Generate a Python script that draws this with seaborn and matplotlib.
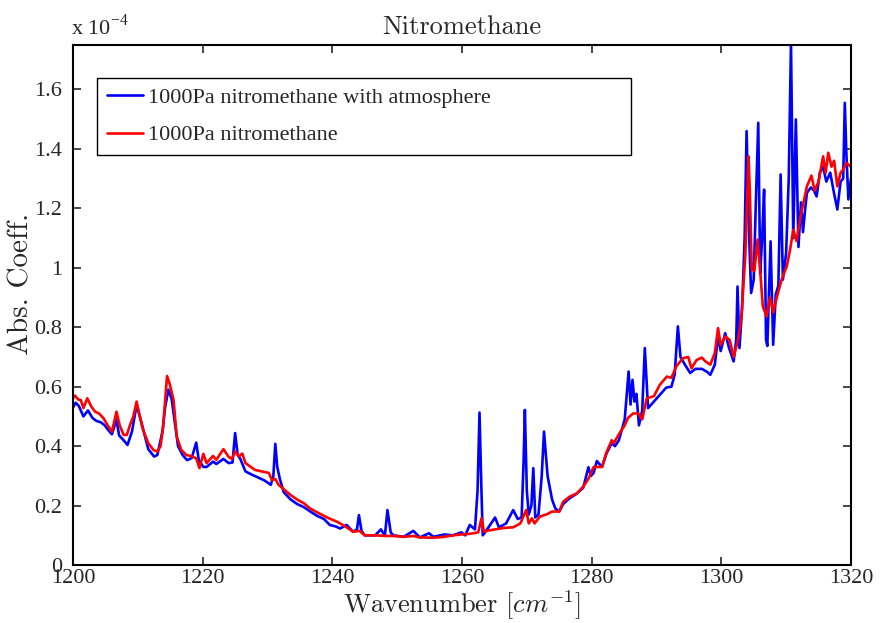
import numpy as np
import pandas as pd
import matplotlib
matplotlib.use("Agg")
import matplotlib.pyplot as plt
import seaborn as sns
from matplotlib.ticker import FuncFormatter, MultipleLocator

# spectrum with atmosphere (blue), absorption in units of 1e-4
wn_atm = [1200.0, 1200.4, 1200.9, 1201.6, 1202.3, 1203.0, 1203.6, 1204.3, 1204.9, 1205.4,
          1206.0, 1206.7, 1207.1, 1207.8, 1208.4, 1209.1, 1209.8, 1210.3, 1210.9, 1211.6,
          1212.5, 1213.0, 1213.8, 1214.2, 1214.7, 1215.2, 1215.7, 1216.2, 1216.9, 1217.6,
          1218.3, 1219.0, 1219.4, 1220.1, 1220.6, 1221.6, 1222.1, 1223.2, 1224.0, 1224.6,
          1225.0, 1225.4, 1225.8, 1226.6, 1227.5, 1228.5, 1229.5, 1230.5, 1230.9, 1231.2,
          1231.5, 1231.9, 1232.5, 1233.6, 1234.6, 1235.6, 1236.6, 1237.7, 1238.7, 1239.6,
          1240.5, 1241.2, 1242.2, 1243.2, 1243.8, 1244.1, 1244.5, 1245.0, 1246.6, 1247.5,
          1248.1, 1248.5, 1249.0, 1249.4, 1251.0, 1252.5, 1253.5, 1254.9, 1255.6, 1257.3,
          1258.6, 1259.9, 1260.5, 1261.2, 1262.0, 1262.4, 1262.7, 1263.0, 1263.2, 1264.0,
          1265.1, 1265.7, 1266.8, 1267.9, 1268.6, 1269.2, 1269.5, 1269.7, 1270.0, 1270.3,
          1270.7, 1271.0, 1271.3, 1271.8, 1272.3, 1272.65, 1273.2, 1273.9, 1274.4, 1275.0,
          1275.6, 1276.6, 1277.7, 1278.7, 1279.5, 1279.9, 1280.3, 1280.8, 1281.6, 1282.3,
          1283.1, 1283.6, 1284.2, 1285.1, 1285.7, 1286.0, 1286.3, 1286.6, 1286.9, 1287.3,
          1287.8, 1288.2, 1288.7, 1289.4, 1290.4, 1291.5, 1292.3, 1292.8, 1293.3, 1293.7,
          1294.4, 1295.2, 1296.0, 1297.0, 1297.8, 1298.3, 1299.0, 1299.5, 1299.9, 1300.6,
          1301.2, 1301.9, 1302.3, 1302.5, 1302.8, 1303.2, 1303.6, 1303.9, 1304.3, 1304.6,
          1305.0, 1305.3, 1305.7, 1306.0, 1306.3, 1306.6, 1306.9, 1307.1, 1307.6, 1308.0,
          1308.4, 1308.8, 1309.15, 1309.5, 1310.0, 1310.4, 1310.75, 1311.1, 1311.5, 1311.9,
          1312.3, 1312.6, 1312.9, 1313.2, 1313.8, 1314.3, 1314.7, 1315.2, 1315.7, 1316.2,
          1316.8, 1317.4, 1317.9, 1318.4, 1318.8, 1319.05, 1319.3, 1319.6, 1320.0]
abs_atm = [0.53, 0.546, 0.535, 0.50, 0.52, 0.495, 0.485, 0.48, 0.47, 0.455,
           0.44, 0.49, 0.436, 0.42, 0.404, 0.45, 0.538, 0.50, 0.45, 0.39,
           0.365, 0.37, 0.45, 0.53, 0.59, 0.56, 0.48, 0.40, 0.37, 0.353,
           0.36, 0.412, 0.353, 0.33, 0.33, 0.348, 0.34, 0.357, 0.343, 0.345,
           0.444, 0.37, 0.357, 0.315, 0.305, 0.295, 0.285, 0.27, 0.30, 0.408,
           0.33, 0.29, 0.245, 0.22, 0.205, 0.195, 0.18, 0.165, 0.155, 0.135,
           0.13, 0.123, 0.135, 0.112, 0.12, 0.168, 0.115, 0.10, 0.10, 0.12,
           0.098, 0.185, 0.11, 0.10, 0.095, 0.115, 0.093, 0.107, 0.095, 0.103,
           0.10, 0.11, 0.10, 0.135, 0.12, 0.25, 0.513, 0.25, 0.10, 0.124,
           0.16, 0.127, 0.14, 0.185, 0.155, 0.16, 0.35, 0.522, 0.25, 0.17,
           0.20, 0.326, 0.16, 0.17, 0.30, 0.449, 0.30, 0.22, 0.19, 0.18,
           0.205, 0.225, 0.24, 0.26, 0.329, 0.30, 0.31, 0.35, 0.33, 0.376,
           0.41, 0.40, 0.42, 0.49, 0.651, 0.54, 0.623, 0.55, 0.576, 0.47,
           0.52, 0.73, 0.528, 0.545, 0.57, 0.597, 0.60, 0.64, 0.803, 0.70,
           0.674, 0.646, 0.66, 0.66, 0.65, 0.64, 0.674, 0.77, 0.72, 0.78,
           0.73, 0.685, 0.757, 0.937, 0.73, 0.86, 1.10, 1.46, 1.10, 0.915,
           0.96, 1.20, 1.488, 0.98, 1.10, 1.263, 0.758, 0.737, 1.089, 0.741,
           0.91, 0.94, 1.314, 0.96, 1.05, 1.30, 1.757, 1.10, 1.499, 1.07,
           1.22, 1.12, 1.19, 1.252, 1.27, 1.26, 1.24, 1.32, 1.34, 1.29,
           1.32, 1.25, 1.196, 1.29, 1.30, 1.555, 1.38, 1.23, 1.30]

# spectrum without atmosphere (red)
wn_pure = [1200.0, 1200.3, 1200.8, 1201.2, 1201.6, 1202.2, 1202.8, 1203.4, 1204.0, 1204.7,
           1205.4, 1206.0, 1206.7, 1207.2, 1207.8, 1208.3, 1208.8, 1209.3, 1209.8, 1210.2,
           1210.8, 1211.6, 1212.4, 1213.0, 1213.5, 1213.9, 1214.5, 1214.9, 1215.5, 1216.0,
           1216.7, 1217.5, 1218.2, 1219.0, 1219.5, 1220.1, 1220.6, 1221.6, 1222.1, 1223.2,
           1224.0, 1224.5, 1225.0, 1225.6, 1226.1, 1226.6, 1227.3, 1228.1, 1229.1, 1230.2,
           1230.7, 1231.2, 1231.7, 1232.5, 1233.6, 1234.6, 1235.6, 1236.6, 1237.7, 1239.2,
           1240.8, 1242.0, 1243.2, 1244.2, 1245.0, 1246.6, 1248.1, 1249.4, 1251.0, 1252.5,
           1253.5, 1255.6, 1257.3, 1258.6, 1259.9, 1261.2, 1262.5, 1263.0, 1263.4, 1264.0,
           1265.1, 1266.5, 1267.9, 1269.0, 1269.9, 1270.3, 1270.8, 1271.2, 1272.0, 1273.0,
           1273.9, 1275.0, 1275.6, 1276.6, 1277.7, 1278.7, 1279.5, 1280.3, 1281.6, 1282.3,
           1283.1, 1283.4, 1284.2, 1285.1, 1285.6, 1286.4, 1287.2, 1287.8, 1288.5, 1289.6,
           1290.5, 1291.6, 1292.3, 1293.1, 1294.1, 1294.9, 1295.4, 1296.2, 1297.0, 1297.5,
           1298.3, 1299.0, 1299.5, 1299.9, 1300.6, 1301.3, 1301.9, 1302.6, 1303.1, 1303.7,
           1304.2, 1304.4, 1304.7, 1305.1, 1305.6, 1306.0, 1306.4, 1307.0, 1307.5, 1308.0,
           1308.6, 1309.3, 1310.1, 1310.6, 1311.1, 1311.6, 1312.3, 1313.2, 1313.9, 1314.4,
           1315.0, 1315.7, 1316.1, 1316.5, 1317.0, 1317.4, 1317.9, 1318.4, 1318.8, 1319.3,
           1320.0]
abs_pure = [0.561, 0.57, 0.557, 0.555, 0.528, 0.561, 0.534, 0.516, 0.51, 0.494,
            0.468, 0.449, 0.516, 0.47, 0.438, 0.438, 0.472, 0.50, 0.55, 0.51,
            0.455, 0.41, 0.387, 0.382, 0.40, 0.466, 0.636, 0.61, 0.556, 0.432,
            0.387, 0.37, 0.367, 0.359, 0.326, 0.374, 0.343, 0.367, 0.354, 0.39,
            0.364, 0.357, 0.382, 0.366, 0.375, 0.343, 0.332, 0.32, 0.315, 0.31,
            0.285, 0.29, 0.27, 0.255, 0.235, 0.22, 0.208, 0.19, 0.177, 0.16,
            0.145, 0.13, 0.112, 0.115, 0.10, 0.10, 0.098, 0.098, 0.095, 0.098,
            0.093, 0.092, 0.095, 0.10, 0.103, 0.105, 0.11, 0.157, 0.112, 0.116,
            0.12, 0.125, 0.127, 0.14, 0.185, 0.14, 0.157, 0.14, 0.163, 0.17,
            0.18, 0.18, 0.213, 0.23, 0.241, 0.264, 0.29, 0.33, 0.33, 0.38,
            0.42, 0.41, 0.44, 0.47, 0.495, 0.51, 0.51, 0.49, 0.561, 0.568,
            0.606, 0.634, 0.63, 0.67, 0.696, 0.70, 0.662, 0.69, 0.698, 0.686,
            0.674, 0.713, 0.797, 0.74, 0.769, 0.757, 0.70, 0.758, 0.836, 1.04,
            1.375, 1.26, 0.994, 0.99, 1.095, 0.99, 0.87, 0.836, 0.90, 0.85,
            0.904, 0.96, 1.005, 1.06, 1.128, 1.09, 1.18, 1.274, 1.31, 1.26,
            1.29, 1.375, 1.32, 1.387, 1.34, 1.36, 1.274, 1.32, 1.33, 1.353,
            1.34]

scale = 1e-4
atm = pd.DataFrame({"wn": wn_atm, "a": np.array(abs_atm) * scale})
pure = pd.DataFrame({"wn": wn_pure, "a": np.array(abs_pure) * scale})

sns.set_style("ticks")
plt.rcParams["mathtext.fontset"] = "cm"
serif = ["Liberation Serif", "DejaVu Serif"]

fig = plt.figure(figsize=(8.8, 6.23), dpi=100)
ax = fig.add_axes([0.083, 0.093, 0.884, 0.835])

sns.lineplot(data=atm, x="wn", y="a", color=(0, 0, 1), lw=1.9, sort=False,
             estimator=None, label="1000Pa nitromethane with atmosphere", ax=ax)
sns.lineplot(data=pure, x="wn", y="a", color=(1, 0, 0), lw=1.9, sort=False,
             estimator=None, label="1000Pa nitromethane", ax=ax)

ax.set_xlim(1200, 1320)
ax.set_ylim(0, 1.75e-4)
ax.xaxis.set_major_locator(MultipleLocator(20))
ax.yaxis.set_major_locator(MultipleLocator(0.2e-4))
ax.yaxis.set_major_formatter(FuncFormatter(lambda v, p: "%g" % round(v / scale, 3)))
ax.tick_params(direction="in", top=True, right=True, length=6, width=1.2,
               labelsize=16)
ax.tick_params(axis="x", pad=3)
ax.tick_params(axis="y", pad=8)
for lab in ax.get_xticklabels() + ax.get_yticklabels():
    lab.set_family(serif)
for s in ax.spines.values():
    s.set_linewidth(1.5)
    s.set_color("black")

ax.set_title("Nitromethane", family="cmr10", fontsize=19, pad=8)
ax.set_xlabel(r"Wavenumber $[cm^{-1}]$", family="cmr10", fontsize=19, labelpad=0)
ax.set_ylabel("Abs. Coeff.", family="cmr10", fontsize=21)
ax.yaxis.set_label_coords(-0.05, 0.54)
ax.text(-0.003, 1.01, r"x 10$^{\mathregular{-4}}$", transform=ax.transAxes,
        family=serif, fontsize=16, ha="left", va="bottom")

leg = ax.legend(loc="upper left", bbox_to_anchor=(0.031, 0.783, 0.686, 0.154),
                mode="expand", borderaxespad=0, fancybox=False, framealpha=1,
                edgecolor="black", prop={"family": serif, "size": 16},
                handlelength=1.6, handletextpad=0.25, labelspacing=0.75, borderpad=0.45)
leg.get_frame().set_linewidth(1.0)

fig.savefig("out.png", dpi=100)
